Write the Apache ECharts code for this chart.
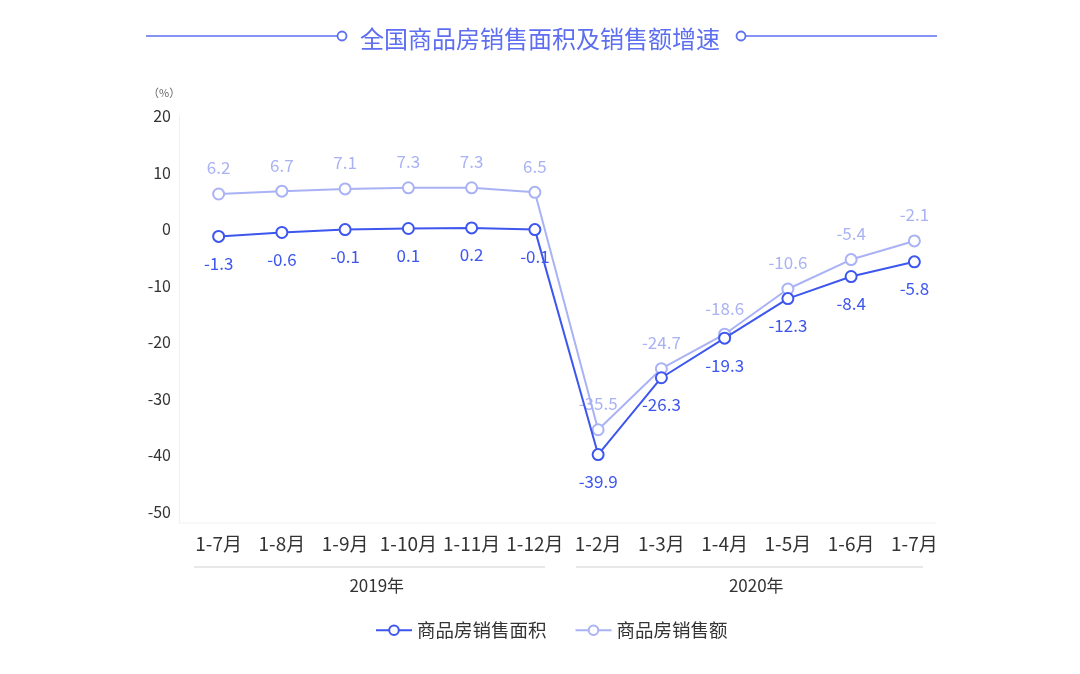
<!DOCTYPE html>
<html><head><meta charset="utf-8">
<script src="https://cdn.jsdelivr.net/npm/echarts@6/dist/echarts.min.js"></script>
<style>html,body{margin:0;padding:0;background:#fff}#c{width:1080px;height:674px}</style>
</head><body><div id="c"></div>
<script>
var categories = ['1-7月','1-8月','1-9月','1-10月','1-11月','1-12月','1-2月','1-3月','1-4月','1-5月','1-6月','1-7月'];
var years = ['2019年','2020年'];
var areaGrowth = [-1.3,-0.6,-0.1,0.1,0.2,-0.1,-39.9,-26.3,-19.3,-12.3,-8.4,-5.8];
var salesGrowth = [6.2,6.7,7.1,7.3,7.3,6.5,-35.5,-24.7,-18.6,-10.6,-5.4,-2.1];
var seriesNames = ['商品房销售面积','商品房销售额'];
var titleText = '全国商品房销售面积及销售额增速';

var dark = '#3d56ee', light = '#a9b2f4', txt = '#333', tc = '#5d6ff0';
var font = '"Noto Sans CJK SC","Noto Sans",sans-serif';
var chart = echarts.init(document.getElementById('c'));
chart.setOption({
  textStyle:{fontFamily:font},
  title:{text:titleText,left:'center',top:22,textStyle:{color:tc,fontSize:24,fontWeight:'normal',fontFamily:font}},
  graphic:[
    {type:'line',shape:{x1:146,y1:36,x2:337,y2:36},style:{stroke:tc,lineWidth:1.5}},
    {type:'circle',shape:{cx:342,cy:36,r:4.5},style:{stroke:tc,fill:'#fff',lineWidth:1.8}},
    {type:'circle',shape:{cx:741,cy:36,r:4.5},style:{stroke:tc,fill:'#fff',lineWidth:1.8}},
    {type:'line',shape:{x1:746,y1:36,x2:937,y2:36},style:{stroke:tc,lineWidth:1.5}},
    {type:'line',shape:{x1:179,y1:523,x2:936,y2:523},style:{stroke:'#f0f0f0',lineWidth:1}},
    {type:'line',shape:{x1:194,y1:567,x2:545,y2:567},style:{stroke:'#e8e8e8',lineWidth:2}},
    {type:'line',shape:{x1:576,y1:567,x2:923,y2:567},style:{stroke:'#e8e8e8',lineWidth:2}},
    {type:'text',left:148,top:87,style:{text:'（%）',fill:'#666',fontSize:11,fontFamily:font}}
  ],
  legend:{top:616,left:370,itemWidth:36,itemHeight:12,itemGap:28,
    textStyle:{fontSize:18.5,color:txt},data:seriesNames},
  grid:{left:187,right:134,top:116,bottom:151},
  xAxis:[{type:'category',data:categories,boundaryGap:true,
    axisLine:{show:false},axisTick:{show:false},
    axisLabel:{color:txt,fontSize:19,margin:11,interval:0}},
   {type:'category',data:years,position:'bottom',offset:46,
    axisLine:{show:false},axisTick:{show:false},
    axisLabel:{color:txt,fontSize:17}}],
  yAxis:{type:'value',min:-52,max:20,interval:2,offset:8,
    axisLine:{show:true,lineStyle:{color:'#f0f0f0'}},axisTick:{show:false},splitLine:{show:false},
    axisLabel:{color:txt,fontSize:16,margin:8,showMinLabel:true,
      formatter:function(v){return (v%10===0)?String(v):'';}}},
  series:[
    {name:seriesNames[0],type:'line',data:areaGrowth,symbol:'emptyCircle',symbolSize:11,
     itemStyle:{color:dark,borderWidth:2},lineStyle:{color:dark,width:2},z:3,
     label:{show:true,position:'bottom',distance:12,color:dark,fontSize:17}},
    {name:seriesNames[1],type:'line',data:salesGrowth,symbol:'emptyCircle',symbolSize:11,
     itemStyle:{color:light,borderWidth:2},lineStyle:{color:light,width:2},z:2,
     label:{show:true,position:'top',distance:11,color:light,fontSize:17}}
  ]
});
</script></body></html>
